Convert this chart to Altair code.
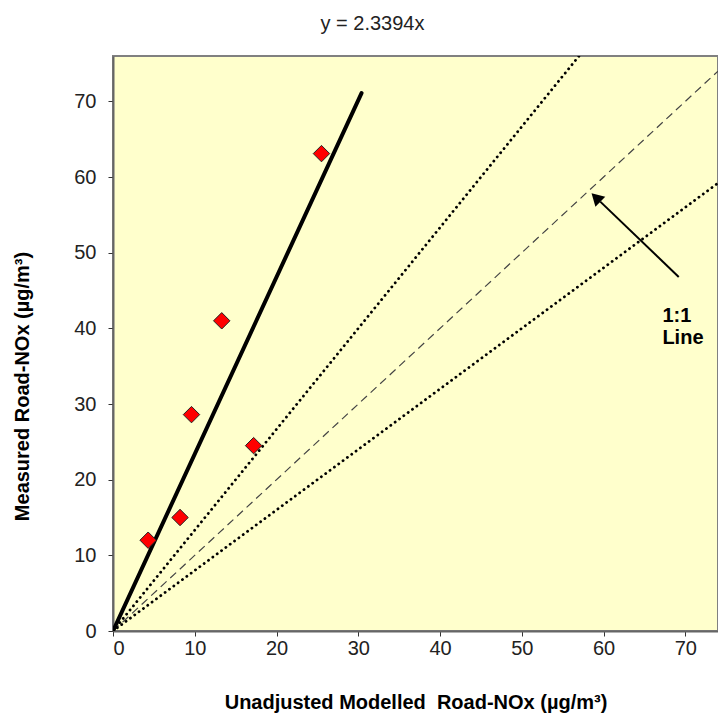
import altair as alt
import pandas as pd

# Measured vs modelled points
modelled = [4.3, 8.2, 9.6, 13.3, 17.2, 25.5]
measured = [12.0, 15.0, 28.6, 41.0, 24.5, 63.1]

# Regression line y = 2.3394x
fit_x = [0, 30.4]
fit_y = [0, 71.1]

# Dotted guide lines
upper_x = [0, 57.0]
upper_y = [0, 76.0]
lower_x = [0, 74.0]
lower_y = [0, 59.2]

# 1:1 line
one_x = [0, 74.0]
one_y = [0, 74.0]

# Arrow (tail -> head) and label
arrow_x = [69.2, 59.6]
arrow_y = [46.8, 56.75]
head_x = [59.07]
head_y = [57.3]
label_x = [67.2, 67.2]
label_y = [41.6, 38.75]
label_txt = ["1:1", "Line"]

FONT = "Liberation Sans"
FS = 20
XMAX, YMAX = 74, 76

pts = pd.DataFrame({"x": modelled, "y": measured})
fit = pd.DataFrame({"x": fit_x, "y": fit_y})
up = pd.DataFrame({"x": upper_x, "y": upper_y})
lo = pd.DataFrame({"x": lower_x, "y": lower_y})
one = pd.DataFrame({"x": one_x, "y": one_y})
arr = pd.DataFrame({"x": arrow_x, "y": arrow_y})
head = pd.DataFrame({"x": head_x, "y": head_y})
lab = pd.DataFrame({"x": label_x, "y": label_y, "t": label_txt})

xs = alt.Scale(domain=[0, XMAX], nice=False, zero=True)
ys = alt.Scale(domain=[0, YMAX], nice=False, zero=True)

xax = alt.Axis(values=[0, 10, 20, 30, 40, 50, 60, 70], grid=False,
               title="Unadjusted Modelled \u00a0Road-NOx (µg/m³)",
               titleFont=FONT, titleFontSize=FS, titleFontWeight="bold",
               titleColor="#000", titlePadding=34,
               labelFont=FONT, labelFontSize=FS, labelColor="#222",
               labelPadding=2, tickSize=5, tickColor="#333",
               domainColor="#666", domainWidth=2)
yax = alt.Axis(values=[0, 10, 20, 30, 40, 50, 60, 70], grid=False,
               title="Measured Road-NOx (µg/m³)",
               titleFont=FONT, titleFontSize=FS, titleFontWeight="bold",
               titleColor="#000", titleX=-81, titleY=330,
               labelFont=FONT, labelFontSize=FS, labelColor="#222",
               labelPadding=12, tickSize=5, tickColor="#333",
               domainColor="#666", domainWidth=2)

base_pts = alt.Chart(pts).mark_point(shape="diamond", filled=True, size=270,
                                     fill="#FF0000", stroke="#222",
                                     strokeWidth=1, opacity=1).encode(
    x=alt.X("x:Q", scale=xs, axis=xax),
    y=alt.Y("y:Q", scale=ys, axis=yax),
)

def line(df, **kw):
    return alt.Chart(df).mark_line(clip=True, **kw).encode(
        x=alt.X("x:Q", scale=xs), y=alt.Y("y:Q", scale=ys))

fit_l = line(fit, color="#000", strokeWidth=4, strokeCap="round")
up_l = line(up, color="#000", strokeWidth=2.8, strokeDash=[0.1, 5.3], strokeCap="round")
lo_l = line(lo, color="#000", strokeWidth=2.8, strokeDash=[0.1, 5.3], strokeCap="round")
one_l = line(one, color="#444", strokeWidth=1.2, strokeDash=[8, 5])
arr_l = line(arr, color="#000", strokeWidth=2)

head_m = alt.Chart(head).mark_point(shape="triangle-up", filled=True, size=200,
                                    color="#000", angle=314, opacity=1).encode(
    x=alt.X("x:Q", scale=xs), y=alt.Y("y:Q", scale=ys))

lab_m = alt.Chart(lab).mark_text(font=FONT, fontSize=FS, fontWeight="bold",
                                 align="left", baseline="middle",
                                 color="#000").encode(
    x=alt.X("x:Q", scale=xs), y=alt.Y("y:Q", scale=ys), text="t:N")

chart = alt.layer(one_l, up_l, lo_l, fit_l, arr_l, head_m, lab_m, base_pts).properties(
    width=605, height=575,
    title=alt.TitleParams("y = 2.3394x", font=FONT, fontSize=FS,
                          fontWeight="normal", color="#222",
                          anchor="middle", dx=-43, offset=22),
    padding={"left": 105, "top": 48, "right": 0, "bottom": 90},
    autosize=alt.AutoSizeParams(type="none"),
).configure_view(fill="#FFFFCC", stroke="#808080", strokeWidth=2)

chart.save("out.html", embed_options={"renderer": "svg", "actions": False})
